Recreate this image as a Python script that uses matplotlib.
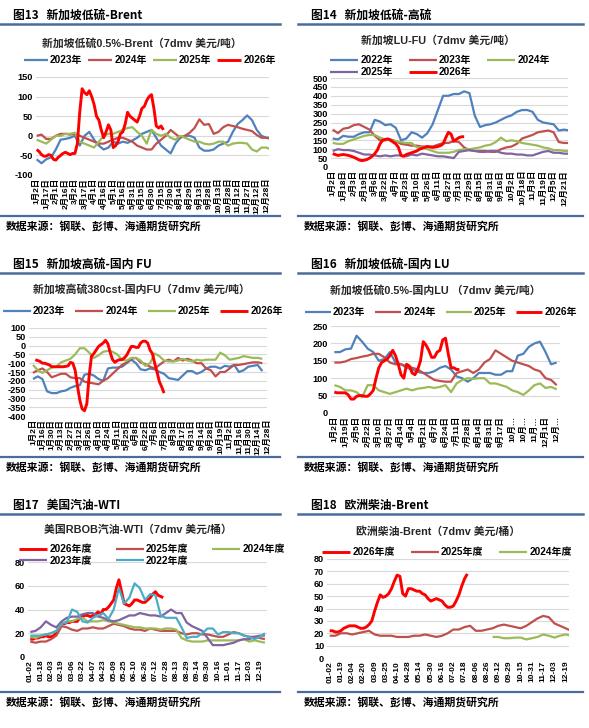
import numpy as np
import matplotlib
matplotlib.use("Agg")
import matplotlib.pyplot as plt
from matplotlib.lines import Line2D

plt.rcParams["font.family"] = ["Liberation Sans", "Noto Sans CJK SC", "DejaVu Sans"]
plt.rcParams["axes.unicode_minus"] = False

W, H = 589, 728

BLUE = "#4F81BD"
BROWN = "#C0504D"
GREEN = "#9BBB59"
PURPLE = "#8064A2"
CYAN = "#4BACC6"
RED = "#FF0000"
RULE = "#4A6C9B"

# ---------------- data (x in tick units, half-tick sampling; 2026 at quarter-tick) ----------------
p13_ticks = ["1月2日", "1月17日", "2月1日", "2月16日", "3月2日", "3月17日", "4月1日", "4月16日",
             "5月1日", "5月16日", "5月31日", "6月15日", "6月30日", "7月15日", "7月30日", "8月14日",
             "8月29日", "9月13日", "9月28日", "10月13日", "10月28日", "11月12日", "11月27日",
             "12月12日", "12月28日"]
p13_2023 = [-60, -70, -60, -55, -35, -10, -8, -5, 0, -25, 0, 10, -10, -25, -35, -30, -15, -20, -15, -18,
            -12, -5, 5, 10, 15, -5, -25, -35, -45, -20, -5, 0, 0, -5, -30, -38, -38, -35, -25, -20,
            -15, 10, 30, 40, 52, 40, 15, 0, -5, -5]
p13_2024 = [0, 3, -8, -8, 0, 5, 5, 3, 5, 0, -5, -10, -15, -20, -20, -15, -10, -5, -5, -10,
            -15, -25, -30, -35, -35, -20, -10, 0, 15, 5, -5, 0, 8, 20, 42, 28, 30, 5, 10, 22,
            28, 25, 22, 18, 15, 12, 2, -5, -5, -8]
p13_2025 = [-10, -15, -20, -10, 0, 0, 5, 5, 8, -15, -20, -25, -30, -15, 0, 5, 5, 10, 15, 20,
            22, 10, 0, -20, 15, 5, 0, 5, -5, -10, 0, -5, -10, -15, -15, -20, -22, -20, -15, -15,
            -25, -20, -18, -18, -20, -35, -40, -30, -30, -35]
p13_2026 = [-35, -40, -48, -52, -52, -48, -50, -60, -62, -55, -50, -45, -42, -45, -48, -45, -45, -20,
            60, 120, 110, 105, 115, 100, 80, 50, 40, 15, -5, 10, 28, 15, -30, -25, -15, 5, 10, 30,
            60, 50, 45, 40, 35, 50, 70, 75, 90, 100, 105, 70, 25, 20, 25, 15]

p14_ticks = ["1月2日", "1月18日", "2月3日", "2月19日", "3月6日", "3月22日", "4月7日", "4月23日",
             "5月10日", "5月26日", "6月11日", "6月27日", "7月13日", "7月29日", "8月15日", "8月31日",
             "9月16日", "10月2日", "10月18日", "11月3日", "11月19日", "12月5日", "12月21日"]
p14_2022 = [160, 155, 175, 170, 170, 185, 195, 195, 265, 255, 235, 240, 220, 150, 160, 195, 185, 165,
            190, 240, 320, 400, 400, 410, 410, 425, 415, 290, 225, 235, 240, 250, 265, 280, 290, 310,
            320, 320, 310, 265, 250, 245, 240, 205, 210, 205]
p14_2023 = [210, 190, 215, 220, 235, 240, 225, 210, 175, 150, 150, 155, 145, 130, 125, 120, 120, 115,
            115, 115, 125, 135, 135, 145, 140, 110, 95, 90, 90, 90, 85, 85, 100, 110, 115, 130,
            160, 170, 180, 195, 200, 205, 195, 140, 135, 135]
p14_2024 = [135, 130, 130, 145, 155, 165, 175, 180, 180, 165, 155, 150, 145, 140, 135, 135, 110, 110,
            100, 90, 80, 80, 80, 85, 95, 100, 100, 105, 110, 120, 125, 140, 165, 145, 150, 145,
            135, 130, 125, 120, 110, 105, 95, 95, 90, 90]
p14_2025 = [90, 100, 95, 95, 90, 80, 70, 70, 65, 60, 65, 60, 65, 65, 60, 70, 65, 75, 70, 65,
            60, 60, 55, 50, 85, 90, 95, 90, 85, 85, 90, 90, 80, 75, 75, 70, 70, 65, 65, 75,
            85, 90, 80, 80, 75, 75]
p14_2026 = [75, 70, 65, 68, 70, 68, 65, 60, 55, 48, 40, 36, 38, 42, 50, 60, 75, 95, 130, 150,
            155, 158, 150, 140, 130, 110, 65, 60, 70, 75, 80, 85, 90, 100, 105, 110, 115, 112,
            110, 112, 115, 120, 130, 165, 195, 185, 145, 155, 165, 170, 170]

p15_ticks = ["1月2日", "1月16日", "1月30日", "2月13日", "2月27日", "3月12日", "3月26日", "4月10日",
             "4月24日", "5月11日", "5月25日", "6月8日", "6月22日", "7月6日", "7月20日", "8月3日",
             "8月17日", "8月31日", "9月14日", "9月28日", "10月19日", "11月2日", "11月16日",
             "11月30日", "12月14日", "12月28日"]
p15_2023 = [-190, -175, -190, -260, -270, -270, -260, -255, -240, -230, -225, -165, -160, -170, -190,
            -200, -130, -125, -125, -120, -100, -80, -100, -135, -140, -130, -135, -150, -160, -185,
            -190, -195, -170, -145, -145, -160, -150, -130, -120, -120, -130, -115, -120, -110, -150,
            -140, -120, -115, -110, -145]
p15_2024 = [-155, -140, -130, -150, -180, -170, -160, -160, -180, -185, -185, -205, -210, -215, -220,
            -200, -185, -160, -135, -110, -95, -75, -70, -95, -105, -120, -130, -110, -90, -80,
            -90, -70, -85, -75, -85, -100, -100, -130, -140, -175, -150, -150, -130, -110, -110,
            -105, -100, -95, -95, -100]
p15_2025 = [-110, -140, -155, -140, -125, -120, -95, -85, -75, -50, -15, -15, -40, -70, -55, -35, -30,
            -35, -50, -80, -85, -70, -70, -85, -115, -100, -45, -60, -85, -90, -90, -85, -75, -85,
            -90, -80, -85, -80, -80, -80, -40, -55, -80, -75, -70, -60, -65, -70, -70, -75]
p15_2026 = [-80, -85, -90, -100, -100, -105, -110, -120, -120, -120, -120, -120, -120, -118, -115, -95,
            -100, -140, -230, -310, -360, -370, -330, -170, -60, -45, -25, -5, 5, 15, 30, 10, -40,
            -80, -95, -85, -80, -80, -70, -55, -30, -5, -5, -10, -10, 15, 25, 25, 15, -25, -45,
            -100, -150, -205, -235, -270]

p16_ticks = ["1月2日", "1月19日", "2月5日", "2月22日", "3月10日", "3月27日", "4月14日", "5月4日",
             "5月21日", "6月7日", "6月24日", "7月11日", "7月28日", "8月14日", "8月31日", "9月17日",
             "10月…", "10月…", "11月…", "12月1日", "12月…"]
p16_2023 = [175, 175, 183, 185, 222, 205, 185, 175, 150, 155, 175, 145, 140, 130, 125, 118, 115, 115,
            120, 130, 135, 125, 105, 100, 90, 100, 115, 115, 115, 110, 110, 120, 120, 165, 170, 190,
            200, 205, 175, 140, 145]
p16_2024 = [145, 145, 148, 155, 158, 162, 165, 170, 170, 160, 145, 140, 140, 135, 130, 125, 115, 105,
            95, 92, 90, 90, 115, 120, 125, 115, 125, 145, 155, 180, 170, 160, 150, 145, 140, 135,
            125, 120, 100, 95, 80]
p16_2025 = [80, 75, 65, 65, 60, 45, 80, 80, 65, 60, 55, 60, 65, 70, 65, 70, 72, 75, 72, 75,
            80, 60, 85, 95, 100, 98, 100, 100, 85, 85, 80, 75, 65, 60, 52, 65, 80, 85, 72, 75, 68]
p16_2026 = [60, 58, 58, 58, 58, 52, 40, 40, 48, 50, 50, 48, 48, 55, 65, 100, 130, 145, 150, 155,
            165, 180, 165, 140, 110, 100, 140, 135, 115, 110, 125, 150, 205, 195, 180, 160, 160,
            175, 180, 210, 215, 170, 130, 130, 125, 125]

p17_ticks = ["01-02", "01-18", "02-03", "02-19", "03-06", "03-22", "04-07", "04-23", "05-09",
             "05-25", "06-10", "06-26", "07-12", "07-28", "08-13", "08-29", "09-14", "09-30",
             "10-16", "11-01", "11-17", "12-03", "12-19"]
p17_2026 = [15, 15, 16, 16, 17, 17, 18, 17, 17, 18, 20, 25, 28, 28, 29, 29, 30, 30, 30, 33,
            34, 35, 35, 34, 35, 36, 38, 36, 40, 40, 42, 45, 48, 58, 65, 55, 45, 44, 43, 45,
            48, 48, 47, 46, 46, 48, 50, 53, 55, 52, 51, 50]
p17_2025 = [13, 12, 13, 13, 15, 18, 26, 25, 23, 22, 24, 24, 25, 24, 24, 26, 28, 27, 26, 24,
            23, 23, 22, 24, 23, 22, 22, 22, 22, 20, 19, 20, 20, 19, 19, 18, 17, 17, 19, 21,
            20, 18, 17, 17, 16, 15]
p17_2024 = [17, 16, 18, 19, 20, 22, 28, 30, 30, 32, 33, 30, 30, 30, 31, 30, 29, 28, 27, 26,
            25, 25, 24, 24, 24, 23, 24, 24, 23, 16, 14, 13, 13, 13, 14, 14, 14, 14, 14, 14,
            14, 15, 13, 14, 13, 12]
p17_2023 = [21, 22, 25, 30, 27, 25, 30, 33, 34, 34, 36, 37, 37, 34, 33, 31, 30, 31, 33, 35,
            35, 37, 36, 35, 35, 34, 37, 40, 37, 37, 29, 26, 24, 22, 16, 10, 10, 10, 11, 12,
            14, 15, 15, 17, 18, 18]
p17_2022 = [18, 18, 18, 19, 20, 22, 28, 29, 40, 38, 30, 29, 33, 35, 37, 32, 40, 58, 45, 50,
            62, 58, 48, 53, 52, 35, 33, 33, 33, 25, 16, 17, 17, 20, 24, 24, 19, 21, 21, 20,
            20, 18, 17, 15, 17, 20]

p18_ticks = ["01-02", "01-19", "02-04", "02-20", "03-09", "03-25", "04-10", "04-28", "05-14",
             "05-30", "06-16", "07-02", "07-18", "08-06", "08-26", "09-12", "09-29", "10-15",
             "10-31", "11-17", "12-03", "12-19"]
p18_2026 = [22, 22, 21, 21, 22, 24, 25, 26, 26, 26, 25, 24, 24, 25, 27, 30, 38, 45, 51, 49,
            50, 52, 56, 62, 67, 66, 52, 50, 56, 56, 55, 54, 54, 52, 51, 48, 46, 47, 48, 47,
            46, 43, 41, 41, 42, 46, 51, 58, 64, 68]
p18_2025 = [18, 18, 20, 20, 19, 20, 21, 22, 19, 18, 18, 18, 17, 17, 17, 18, 18, 19, 18, 17,
            18, 20, 23, 23, 25, 26, 22, 22, 23, 24, 26, 27, 26, 25, 24, 26, 29, 32, 34, 33,
            28, 26, 24, 22]
p18_2024 = [17, 17, 16, 16, 16.5, 16.5, 15, 16, 17, 19, 18, 16.5, 18, 19, 18]


def px_axes(fig, left, top, right, bottom):
    return fig.add_axes([left / W, 1 - bottom / H, (right - left) / W, (bottom - top) / H])


def fig_text(fig, x, y, s, **kw):
    fig.text(x / W, 1 - y / H, s, **kw)


def fig_rule(fig, x0, x1, y, lw):
    fig.add_artist(Line2D([x0 / W, x1 / W], [1 - y / H, 1 - y / H], color=RULE, lw=lw))


def series_x(values, step, start=0.0):
    return start + np.arange(len(values)) * step


def panel(fig, frame, ax_box, header, title, title_xy, ticks, xlim, ylim, ystep,
          lines, legend_order, legend_kw):
    x0, x1, top_rule, bottom_rule = frame
    fig_rule(fig, x0, x1, top_rule, 1.8)
    fig_rule(fig, x0, x1, bottom_rule, 1.6)
    fig_text(fig, x0 + 13, top_rule - 9, header, fontsize=8.5, fontweight="bold",
             family=["Noto Sans CJK SC"], va="center", ha="left")
    fig_text(fig, x0 + 6, bottom_rule + 10, "数据来源：钢联、彭博、海通期货研究所", fontsize=7.8,
             fontweight="bold", family=["Noto Sans CJK SC"], va="center", ha="left")
    fig_text(fig, title_xy[0], title_xy[1], title, fontsize=7.8, fontweight="bold",
             color="#262626", va="center", ha="center")

    ax = px_axes(fig, *ax_box)
    handles = {}
    for label, xs, ys, color, lw in lines:
        (h,) = ax.plot(xs, ys, color=color, lw=lw, label=label, solid_capstyle="butt")
        handles[label] = h
    ax.set_xlim(*xlim)
    ax.set_ylim(*ylim)
    ax.set_yticks(np.arange(ylim[0], ylim[1] + 0.1, ystep))
    ax.yaxis.grid(True, color="#D9D9D9", lw=0.8)
    ax.set_axisbelow(True)
    ax.set_xticks(np.arange(len(ticks)))
    ax.set_xticklabels(ticks, rotation=90, fontsize=6.0, fontweight="bold")
    for lab in ax.get_yticklabels():
        lab.set_fontsize(6.6)
        lab.set_fontweight("bold")
    ax.tick_params(length=0, pad=2)
    for sp in ax.spines.values():
        sp.set_visible(False)
    ax.set_facecolor("none")

    leg = ax.legend([handles[k] for k in legend_order], legend_order, frameon=False,
                    prop={"size": 7.2, "weight": "bold"}, bbox_transform=fig.transFigure,
                    loc="center", borderaxespad=0, **legend_kw)
    return ax


fig = plt.figure(figsize=(W / 100, H / 100), dpi=100)
fig.patch.set_facecolor("white")

LW = 1.6
LW_RED = 2.1

# Figure 13
panel(fig, (0, 280, 24, 216), (36, 77, 269, 175),
      "图13   新加坡低硫-Brent", "新加坡低硫0.5%-Brent（7dmv 美元/吨）", (142, 43),
      p13_ticks, (-0.07, 24.28), (-100, 150), 50,
      [("2023年", series_x(p13_2023, 0.5), p13_2023, BLUE, LW),
       ("2024年", series_x(p13_2024, 0.5), p13_2024, BROWN, LW),
       ("2025年", series_x(p13_2025, 0.5), p13_2025, GREEN, LW),
       ("2026年", series_x(p13_2026, 0.25), p13_2026, RED, LW_RED)],
      ["2023年", "2024年", "2025年", "2026年"],
      dict(ncol=4, bbox_to_anchor=(150 / W, 1 - 60 / H), handlelength=2.4,
           columnspacing=0.6, handletextpad=0.2))

# Figure 14
panel(fig, (298, 583, 24, 216), (331, 78, 568, 167),
      "图14   新加坡低硫-高硫", "新加坡LU-FU（7dmv 美元/吨）", (438, 41),
      p14_ticks, (-0.16, 22.37), (0, 500), 50,
      [("2022年", series_x(p14_2022, 0.5), p14_2022, BLUE, LW),
       ("2023年", series_x(p14_2023, 0.5), p14_2023, BROWN, LW),
       ("2024年", series_x(p14_2024, 0.5), p14_2024, GREEN, LW),
       ("2025年", series_x(p14_2025, 0.5), p14_2025, PURPLE, LW),
       ("2026年", series_x(p14_2026, 0.25), p14_2026, RED, LW_RED)],
      ["2022年", "2025年", "2023年", "2026年", "2024年"],
      dict(ncol=3, bbox_to_anchor=(440 / W, 1 - 66 / H), handlelength=2.8,
           columnspacing=1.6, handletextpad=0.2, labelspacing=0.2))

# Figure 15
panel(fig, (0, 280, 273, 457), (29, 328, 267, 416),
      "图15   新加坡高硫-国内 FU", "新加坡高硫380cst-国内FU（7dmv 美元/吨）", (141, 289),
      p15_ticks, (-0.43, 25.0), (-400, 100), 50,
      [("2023年", series_x(p15_2023, 0.5), p15_2023, BLUE, LW),
       ("2024年", series_x(p15_2024, 0.5), p15_2024, BROWN, LW),
       ("2025年", series_x(p15_2025, 0.5), p15_2025, GREEN, LW),
       ("2026年", series_x(p15_2026, 0.25, 0.25), p15_2026, RED, LW_RED)],
      ["2023年", "2024年", "2025年", "2026年"],
      dict(ncol=4, bbox_to_anchor=(143 / W, 1 - 311 / H), handlelength=2.8,
           columnspacing=1.0, handletextpad=0.2))

# Figure 16
panel(fig, (298, 583, 273, 457), (331, 326, 560, 413),
      "图16   新加坡低硫-国内 LU", "新加坡低硫0.5%-国内LU （7dmv 美元/吨）", (435, 290),
      p16_ticks, (-0.3, 20.3), (0, 250), 50,
      [("2023年", series_x(p16_2023, 0.5), p16_2023, BLUE, LW),
       ("2024年", series_x(p16_2024, 0.5), p16_2024, BROWN, LW),
       ("2025年", series_x(p16_2025, 0.5), p16_2025, GREEN, LW),
       ("2026年", series_x(p16_2026, 0.25), p16_2026, RED, LW_RED)],
      ["2023年", "2024年", "2025年", "2026年"],
      dict(ncol=4, bbox_to_anchor=(441 / W, 1 - 312 / H), handlelength=2.6,
           columnspacing=1.0, handletextpad=0.2))

# Figure 17
panel(fig, (0, 280, 514, 692), (28, 562, 267, 657),
      "图17   美国汽油-WTI", "美国RBOB汽油-WTI（7dmv 美元/桶）", (138, 530),
      p17_ticks, (-0.22, 22.7), (0, 80), 20,
      [("2026年度", series_x(p17_2026, 0.25), p17_2026, RED, LW_RED),
       ("2025年度", series_x(p17_2025, 0.5), p17_2025, BROWN, LW),
       ("2024年度", series_x(p17_2024, 0.5), p17_2024, GREEN, LW),
       ("2023年度", series_x(p17_2023, 0.5), p17_2023, PURPLE, LW),
       ("2022年度", series_x(p17_2022, 0.5), p17_2022, CYAN, LW)],
      ["2026年度", "2023年度", "2025年度", "2022年度", "2024年度"],
      dict(ncol=3, bbox_to_anchor=(152 / W, 1 - 555 / H), handlelength=2.8,
           columnspacing=2.4, handletextpad=0.2, labelspacing=0.15))

# Figure 18
panel(fig, (298, 583, 514, 692), (327, 559, 569, 658),
      "图18   欧洲柴油-Brent", "欧洲柴油-Brent（7dmv 美元/桶）", (438, 531),
      p18_ticks, (-0.24, 21.3), (0, 80), 10,
      [("2026年度", series_x(p18_2026, 0.25), p18_2026, RED, LW_RED),
       ("2025年度", series_x(p18_2025, 0.5), p18_2025, BROWN, LW),
       ("2024年度", series_x(p18_2024, 0.5, 14.5), p18_2024, GREEN, LW)],
      ["2026年度", "2025年度", "2024年度"],
      dict(ncol=3, bbox_to_anchor=(447 / W, 1 - 552 / H), handlelength=2.8,
           columnspacing=1.6, handletextpad=0.2))

fig.savefig("out.png", dpi=100, facecolor="white")
